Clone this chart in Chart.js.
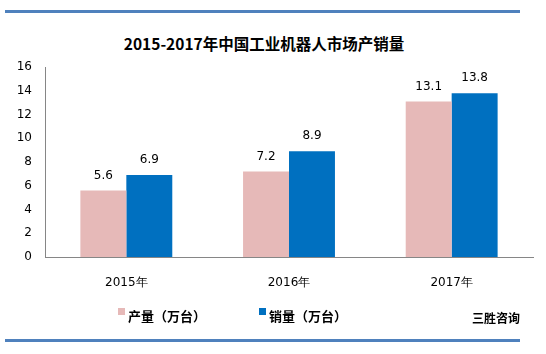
<!DOCTYPE html>
<html>
<head>
<meta charset="utf-8">
<script src="https://cdn.jsdelivr.net/npm/chart.js@4"></script>
<style>
  html, body { margin: 0; padding: 0; background: #fff; }
  #wrap { position: relative; width: 546px; height: 354px; overflow: hidden; }
  #chart { position: absolute; left: 0; top: 0; }
  .rule { position: absolute; left: 5px; width: 515px; height: 3px; background: #4f81bd; }
  .title { position: absolute; left: 0; width: 528px; top: 32px; text-align: center;
    font: bold 15.5px "Noto Sans CJK SC", sans-serif; color: #000; line-height: 22px; }
  .legend { position: absolute; top: 307px; font: bold 13px "Noto Sans CJK SC", sans-serif; color: #000; line-height: 18px; }
  .legend i { display: inline-block; width: 7px; height: 7px; margin-right: 3px; vertical-align: 6px; }
  .source { position: absolute; left: 472px; top: 309px; font: bold 12px "Noto Sans CJK SC", sans-serif; color: #000; }
</style>
</head>
<body>
<div id="wrap">
  <div class="rule" style="top:10px"></div>
  <div class="title">2015-2017年中国工业机器人市场产销量</div>
  <canvas id="chart" width="546" height="354"></canvas>
  <div class="legend" style="left:118px"><i style="background:#e6b9b8"></i>产量（万台）</div>
  <div class="legend" style="left:259px"><i style="background:#0070c0"></i>销量（万台）</div>
  <div class="source">三胜咨询</div>
  <div class="rule" style="top:339px"></div>
</div>
<script>
// 数据
const years = ['2015年', '2016年', '2017年'];
const output = [5.6, 7.2, 13.1];   // 产量（万台）
const sales = [6.9, 8.9, 13.8];    // 销量（万台）
const yTicks = [0, 2, 4, 6, 8, 10, 12, 14, 16];

// 柱顶数值
const valueLabels = {
  id: 'valueLabels',
  afterDatasetsDraw(chart) {
    const ctx = chart.ctx;
    ctx.save();
    ctx.font = '12px "DejaVu Sans", sans-serif';
    ctx.fillStyle = '#000';
    ctx.textAlign = 'center';
    ctx.textBaseline = 'middle';
    chart.data.datasets.forEach((ds, i) => {
      chart.getDatasetMeta(i).data.forEach((bar, j) => {
        ctx.fillText(ds.data[j].toFixed(1), bar.x, bar.y - 15);
      });
    });
    ctx.restore();
  }
};

new Chart(document.getElementById('chart'), {
  type: 'bar',
  data: {
    labels: years,
    datasets: [
      { label: '产量（万台）', data: output, backgroundColor: '#e6b9b8' },
      { label: '销量（万台）', data: sales, backgroundColor: '#0070c0' }
    ]
  },
  options: {
    responsive: false,
    animation: false,
    layout: { padding: { top: 67, right: 13, bottom: 37, left: 0 } },
    datasets: { bar: { categoryPercentage: 0.565, barPercentage: 1 } },
    plugins: { legend: { display: false }, tooltip: { enabled: false } },
    scales: {
      x: {
        grid: { display: false, drawTicks: false },
        border: { color: '#868686' },
        ticks: { color: '#000', padding: 19, font: { size: 12, family: '"DejaVu Sans", sans-serif' } },
        afterFit(scale) { scale.height = 60; }
      },
      y: {
        min: 0, max: 16,
        afterBuildTicks(scale) { scale.ticks = yTicks.map(v => ({ value: v })); },
        grid: { display: false, drawTicks: false },
        border: { color: '#868686' },
        ticks: { color: '#000', padding: 13, font: { size: 12, family: '"DejaVu Sans", sans-serif' } },
        afterFit(scale) { scale.width = 45; }
      }
    }
  },
  plugins: [valueLabels]
});
</script>
</body>
</html>
